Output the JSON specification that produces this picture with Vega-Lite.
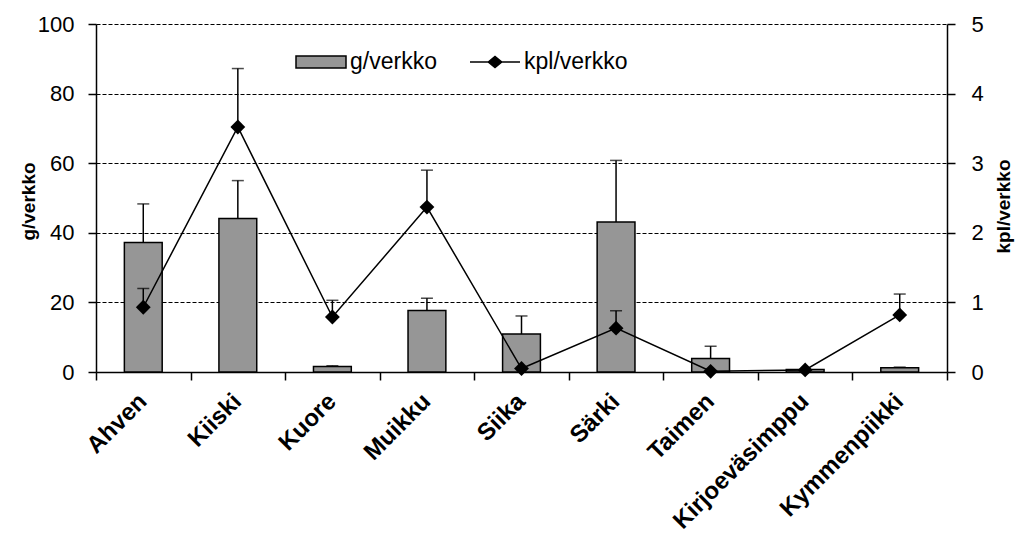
{
  "$schema": "https://vega.github.io/schema/vega-lite/v6.json",
  "width": 851,
  "height": 348,
  "autosize": "none",
  "padding": {"left": 96, "top": 24, "right": 71, "bottom": 171},
  "background": "white",
  "data": {
    "values": [
      {"laji": "Ahven", "g": 37.2, "g_hi": 48.3, "kpl": 0.93, "kpl_hi": 1.2},
      {"laji": "Kiiski", "g": 44.1, "g_hi": 55.0, "kpl": 3.52, "kpl_hi": 4.36},
      {"laji": "Kuore", "g": 1.6, "g_hi": 1.8, "kpl": 0.79, "kpl_hi": 1.03},
      {"laji": "Muikku", "g": 17.7, "g_hi": 21.2, "kpl": 2.37, "kpl_hi": 2.9},
      {"laji": "Siika", "g": 10.9, "g_hi": 16.1, "kpl": 0.05, "kpl_hi": null},
      {"laji": "Särki", "g": 43.1, "g_hi": 60.8, "kpl": 0.63, "kpl_hi": 0.88},
      {"laji": "Taimen", "g": 3.9, "g_hi": 7.4, "kpl": 0.01, "kpl_hi": null},
      {"laji": "Kirjoeväsimppu", "g": 0.7, "g_hi": null, "kpl": 0.03, "kpl_hi": null},
      {"laji": "Kymmenpiikki", "g": 1.2, "g_hi": 1.4, "kpl": 0.82, "kpl_hi": 1.12}
    ]
  },
  "encoding": {
    "x": {
      "field": "laji",
      "type": "nominal",
      "sort": null,
      "scale": {"paddingInner": 0, "paddingOuter": 0},
      "axis": {
        "title": null,
        "labelAngle": -45,
        "labelFont": "Liberation Sans",
        "labelFontSize": 24,
        "labelFontWeight": "bold",
        "labelColor": "black",
        "labelPadding": 9,
        "labelOffset": -9,
        "labelLimit": 0,
        "labelOverlap": false,
        "tickBand": "extent",
        "tickSize": 8,
        "tickColor": "black",
        "tickWidth": 1.5,
        "domainColor": "black",
        "domainWidth": 1.5,
        "grid": false
      }
    }
  },
  "layer": [
    {
      "layer": [
        {
          "mark": {"type": "bar", "stroke": "black", "strokeWidth": 1.5, "width": {"band": 0.4}},
          "encoding": {
            "y": {
              "field": "g",
              "type": "quantitative",
              "scale": {"domain": [0, 100], "nice": false},
              "axis": {"orient": "left", "title": "g/verkko", "values": [0, 20, 40, 60, 80, 100], "grid": true, "gridColor": "black", "gridDash": [4, 2], "gridWidth": 1.2, "domainColor": "black", "domainWidth": 1.5, "tickColor": "black", "tickWidth": 1.5, "tickSize": 8, "labelFont": "Liberation Sans", "labelFontSize": 22, "labelColor": "black", "labelPadding": 14, "titleFont": "Liberation Sans", "titleFontSize": 19, "titleFontWeight": "bold", "titleColor": "black", "titleAngle": -90, "titleX": -68, "titleY": 177, "titleAlign": "center", "titleBaseline": "middle"}
            },
            "fill": {
              "datum": "g/verkko",
              "type": "nominal",
              "scale": {"range": ["#969696"]},
              "legend": {
                "orient": "none",
                "legendX": 199,
                "legendY": 12,
                "title": null,
                "padding": 0,
                "labelFont": "Liberation Sans",
                "labelFontSize": 23,
                "labelColor": "black",
                "labelOffset": 3,
                "symbolSize": 2500,
                "symbolType": "M-1,-0.24H1V0.24H-1Z",
                "symbolStrokeColor": "black",
                "symbolStrokeWidth": 1.5,
                "symbolOpacity": 1
              }
            }
          }
        },
        {
          "transform": [{"filter": "isValid(datum.g_hi)"}],
          "mark": {"type": "rule", "color": "black", "strokeWidth": 1.5},
          "encoding": {
            "y": {
              "field": "g",
              "type": "quantitative",
              "scale": {"domain": [0, 100], "nice": false},
              "axis": {"orient": "left", "title": "g/verkko", "values": [0, 20, 40, 60, 80, 100], "grid": true, "gridColor": "black", "gridDash": [4, 2], "gridWidth": 1.2, "domainColor": "black", "domainWidth": 1.5, "tickColor": "black", "tickWidth": 1.5, "tickSize": 8, "labelFont": "Liberation Sans", "labelFontSize": 22, "labelColor": "black", "labelPadding": 14, "titleFont": "Liberation Sans", "titleFontSize": 19, "titleFontWeight": "bold", "titleColor": "black", "titleAngle": -90, "titleX": -68, "titleY": 177, "titleAlign": "center", "titleBaseline": "middle"}
            },
            "y2": {"field": "g_hi"}
          }
        },
        {
          "transform": [{"filter": "isValid(datum.g_hi)"}],
          "mark": {"type": "tick", "color": "black", "size": 12, "thickness": 1.5, "orient": "horizontal"},
          "encoding": {
            "y": {
              "field": "g_hi",
              "type": "quantitative",
              "scale": {"domain": [0, 100], "nice": false},
              "axis": {"orient": "left", "title": "g/verkko", "values": [0, 20, 40, 60, 80, 100], "grid": true, "gridColor": "black", "gridDash": [4, 2], "gridWidth": 1.2, "domainColor": "black", "domainWidth": 1.5, "tickColor": "black", "tickWidth": 1.5, "tickSize": 8, "labelFont": "Liberation Sans", "labelFontSize": 22, "labelColor": "black", "labelPadding": 14, "titleFont": "Liberation Sans", "titleFontSize": 19, "titleFontWeight": "bold", "titleColor": "black", "titleAngle": -90, "titleX": -68, "titleY": 177, "titleAlign": "center", "titleBaseline": "middle"}
            }
          }
        }
      ]
    },
    {
      "layer": [
        {
          "mark": {"type": "line", "strokeWidth": 1.5},
          "encoding": {
            "y": {
              "field": "kpl",
              "type": "quantitative",
              "scale": {"domain": [0, 5], "nice": false},
              "axis": {"orient": "right", "title": "kpl/verkko", "values": [0, 1, 2, 3, 4, 5], "grid": false, "domainColor": "black", "domainWidth": 1.5, "tickColor": "black", "tickWidth": 1.5, "tickSize": 8, "labelFont": "Liberation Sans", "labelFontSize": 22, "labelColor": "black", "labelPadding": 16, "titleFont": "Liberation Sans", "titleFontSize": 19, "titleFontWeight": "bold", "titleColor": "black", "titleAngle": -90, "titleX": 56, "titleY": 182, "titleAlign": "center", "titleBaseline": "middle"}
            },
            "stroke": {
              "datum": "kpl/verkko",
              "type": "nominal",
              "scale": {"range": ["#000000"]},
              "legend": {
                "orient": "none",
                "legendX": 373,
                "legendY": 12,
                "title": null,
                "padding": 0,
                "labelFont": "Liberation Sans",
                "labelFontSize": 23,
                "labelColor": "black",
                "labelOffset": 3,
                "symbolSize": 2500,
                "symbolType": "M-1,0H1M-0.27,0L0,-0.22L0.27,0L0,0.22Z",
                "symbolFillColor": "black",
                "symbolStrokeColor": "black",
                "symbolStrokeWidth": 1.5,
                "symbolOpacity": 1
              }
            }
          }
        },
        {
          "transform": [{"filter": "isValid(datum.kpl_hi)"}],
          "mark": {"type": "rule", "color": "black", "strokeWidth": 1.5},
          "encoding": {
            "y": {
              "field": "kpl",
              "type": "quantitative",
              "scale": {"domain": [0, 5], "nice": false},
              "axis": {"orient": "right", "title": "kpl/verkko", "values": [0, 1, 2, 3, 4, 5], "grid": false, "domainColor": "black", "domainWidth": 1.5, "tickColor": "black", "tickWidth": 1.5, "tickSize": 8, "labelFont": "Liberation Sans", "labelFontSize": 22, "labelColor": "black", "labelPadding": 16, "titleFont": "Liberation Sans", "titleFontSize": 19, "titleFontWeight": "bold", "titleColor": "black", "titleAngle": -90, "titleX": 56, "titleY": 182, "titleAlign": "center", "titleBaseline": "middle"}
            },
            "y2": {"field": "kpl_hi"}
          }
        },
        {
          "transform": [{"filter": "isValid(datum.kpl_hi)"}],
          "mark": {"type": "tick", "color": "black", "size": 12, "thickness": 1.5, "orient": "horizontal"},
          "encoding": {
            "y": {
              "field": "kpl_hi",
              "type": "quantitative",
              "scale": {"domain": [0, 5], "nice": false},
              "axis": {"orient": "right", "title": "kpl/verkko", "values": [0, 1, 2, 3, 4, 5], "grid": false, "domainColor": "black", "domainWidth": 1.5, "tickColor": "black", "tickWidth": 1.5, "tickSize": 8, "labelFont": "Liberation Sans", "labelFontSize": 22, "labelColor": "black", "labelPadding": 16, "titleFont": "Liberation Sans", "titleFontSize": 19, "titleFontWeight": "bold", "titleColor": "black", "titleAngle": -90, "titleX": 56, "titleY": 182, "titleAlign": "center", "titleBaseline": "middle"}
            }
          }
        },
        {
          "mark": {"type": "point", "shape": "diamond", "filled": true, "color": "black", "opacity": 1, "size": 220},
          "encoding": {
            "y": {
              "field": "kpl",
              "type": "quantitative",
              "scale": {"domain": [0, 5], "nice": false},
              "axis": {"orient": "right", "title": "kpl/verkko", "values": [0, 1, 2, 3, 4, 5], "grid": false, "domainColor": "black", "domainWidth": 1.5, "tickColor": "black", "tickWidth": 1.5, "tickSize": 8, "labelFont": "Liberation Sans", "labelFontSize": 22, "labelColor": "black", "labelPadding": 16, "titleFont": "Liberation Sans", "titleFontSize": 19, "titleFontWeight": "bold", "titleColor": "black", "titleAngle": -90, "titleX": 56, "titleY": 182, "titleAlign": "center", "titleBaseline": "middle"}
            }
          }
        }
      ]
    }
  ],
  "resolve": {"scale": {"y": "independent"}},
  "config": {"view": {"stroke": null}}
}
